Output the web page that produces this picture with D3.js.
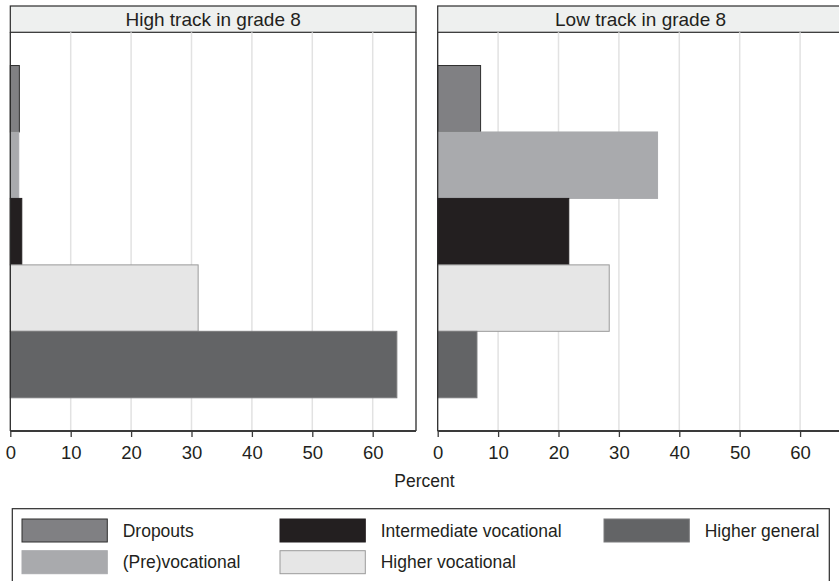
<!DOCTYPE html>
<html>
<head>
<meta charset="utf-8">
<script src="https://cdn.jsdelivr.net/npm/d3@7"></script>
<style>
  html, body { margin: 0; padding: 0; background: #fff; }
  svg { display: block; font-family: "Liberation Sans", Arial, Helvetica, sans-serif; }
</style>
</head>
<body>
<svg id="chart" width="839" height="581"></svg>
<script>
// ---- Data ----
const categories = ["Dropouts", "(Pre)vocational", "Intermediate vocational", "Higher vocational", "Higher general"];
const panels = ["High track in grade 8", "Low track in grade 8"];
const highTrack = [1.5, 1.4, 1.9, 31.1, 64.0];
const lowTrack = [7.1, 36.4, 21.7, 28.4, 6.5];
const xTicks = [0, 10, 20, 30, 40, 50, 60];
const axisTitle = "Percent";

// ---- Styles ----
const fills = ["#808083", "#a9aaad", "#231f20", "#e6e6e6", "#636466"];
const strokes = ["#2e2e2e", "#a9aaad", "#231f20", "#9a9a9a", "#7a7a7c"];

const svg = d3.select("#chart");
const plotTop = 32.3, plotBottom = 431;
const panelLefts = [10.3, 437.7];
const panelWidth = 405.7;
const xMax = 67.17;
const headerTop = 6;

const seriesData = [highTrack, lowTrack];

const y = d3.scaleBand().domain(categories).range([plotTop, plotBottom]).paddingInner(0).paddingOuter(0.5);

panels.forEach((title, p) => {
  const left = panelLefts[p];
  const x = d3.scaleLinear().domain([0, xMax]).range([left, left + panelWidth]);
  const g = svg.append("g");

  // header
  g.append("rect").attr("x", left).attr("y", headerTop)
    .attr("width", panelWidth).attr("height", plotTop - headerTop)
    .attr("fill", "#eef0ef").attr("stroke", "#2b2b2b").attr("stroke-width", 1.2);
  g.append("text").attr("x", left + panelWidth / 2).attr("y", 25.5)
    .attr("text-anchor", "middle").attr("font-size", 19).attr("fill", "#231f20").text(title);

  // gridlines
  g.selectAll("line.grid").data(xTicks.filter(t => t > 0)).enter().append("line")
    .attr("x1", d => x(d)).attr("x2", d => x(d))
    .attr("y1", plotTop).attr("y2", plotBottom)
    .attr("stroke", "#e2e2e2").attr("stroke-width", 1.5);

  // bars
  g.selectAll("rect.bar").data(categories).enter().append("rect")
    .attr("x", x(0))
    .attr("y", d => y(d))
    .attr("width", (d, i) => x(seriesData[p][i]) - x(0))
    .attr("height", y.bandwidth())
    .attr("fill", (d, i) => fills[i])
    .attr("stroke", (d, i) => strokes[i]).attr("stroke-width", 1);

  // plot border (left, right)
  g.append("line").attr("x1", left).attr("x2", left).attr("y1", plotTop).attr("y2", plotBottom)
    .attr("stroke", "#2b2b2b").attr("stroke-width", 1.3);
  g.append("line").attr("x1", left + panelWidth).attr("x2", left + panelWidth).attr("y1", plotTop).attr("y2", plotBottom)
    .attr("stroke", "#2b2b2b").attr("stroke-width", 1.3);

  // x axis
  const axis = d3.axisBottom(x).tickValues(xTicks).tickSize(6).tickPadding(9).tickFormat(d3.format("d"));
  const ag = g.append("g").attr("transform", `translate(0,${plotBottom})`).call(axis);
  ag.select(".domain").attr("stroke", "#3a3a3a").attr("stroke-width", 2)
    .attr("d", `M${x(0)},0H${x(xMax)}`);
  ag.selectAll(".tick line").attr("stroke", "#3a3a3a").attr("stroke-width", 1.3);
  ag.selectAll(".tick text").attr("font-size", 18.5).attr("fill", "#231f20")
    .attr("font-family", "'Liberation Sans', Arial, sans-serif");
});

// axis title
svg.append("text").attr("x", 424.5).attr("y", 487).attr("text-anchor", "middle")
  .attr("font-size", 17.5).attr("fill", "#231f20").text(axisTitle);

// legend
svg.append("rect").attr("x", 12.3).attr("y", 508.7).attr("width", 817).attr("height", 80)
  .attr("fill", "#fff").attr("stroke", "#2b2b2b").attr("stroke-width", 1.2);

const legendX = [22, 280, 604];
const legendY = [519, 550.7];
const legendPos = [[0, 0], [0, 1], [1, 0], [1, 1], [2, 0]];
const lg = svg.append("g");
categories.forEach((c, i) => {
  const [col, row] = legendPos[i];
  lg.append("rect").attr("x", legendX[col]).attr("y", legendY[row])
    .attr("width", 85.3).attr("height", 23)
    .attr("fill", fills[i]).attr("stroke", strokes[i]).attr("stroke-width", 1);
  lg.append("text").attr("x", legendX[col] + 100.7).attr("y", legendY[row] + 17.7)
    .attr("font-size", 17.5).attr("fill", "#231f20").text(c);
});
</script>
</body>
</html>
